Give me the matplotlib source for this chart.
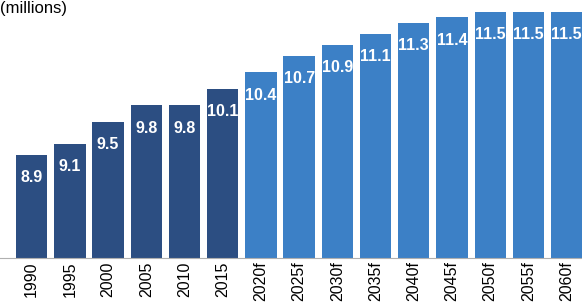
import matplotlib
matplotlib.use('Agg')
import matplotlib.pyplot as plt
import numpy as np

years = ['1990', '1995', '2000', '2005', '2010', '2015', '2020f', '2025f',
         '2030f', '2035f', '2040f', '2045f', '2050f', '2055f', '2060f']
values = [8.9, 9.1, 9.5, 9.8, 9.8, 10.1, 10.4, 10.7, 10.9, 11.1, 11.3, 11.4,
          11.5, 11.5, 11.5]
n_actual = 6  # first six are historical, the rest forecasts

dark = '#2C4E82'
light = '#3C80C6'

plt.rcParams['font.family'] = ['Liberation Sans', 'DejaVu Sans']

fig = plt.figure(figsize=(5.82, 3.03), dpi=100)
ax = fig.add_axes([0, 45 / 303, 1, 258 / 303])

x = np.arange(len(years))
colors = [dark if i < n_actual else light for i in range(len(years))]
bars = ax.bar(x, values, width=0.82, color=colors, bottom=0)

for xi, v in zip(x, values):
    ax.annotate(f'{v:.1f}', (xi, v), xytext=(0, -16.5), textcoords='offset points',
                ha='center', va='center', color='white', fontsize=11.5,
                fontweight='bold')

ax.set_xlim(-0.831, 14.404)
ax.set_ylim(7.027, 11.718)
ax.set_xticks(x)
ax.set_xticklabels(years, rotation=90, fontsize=11.5)
ax.tick_params(axis='x', length=0, pad=2.5)
ax.set_yticks([])
for side in ['top', 'right', 'left']:
    ax.spines[side].set_visible(False)
ax.spines['bottom'].set_color('#b0b0b0')
ax.spines['bottom'].set_linewidth(0.8)

fig.text(0.0, 0.998, '(millions)', ha='left', va='top', fontsize=12)

fig.savefig('out.png', dpi=100)
